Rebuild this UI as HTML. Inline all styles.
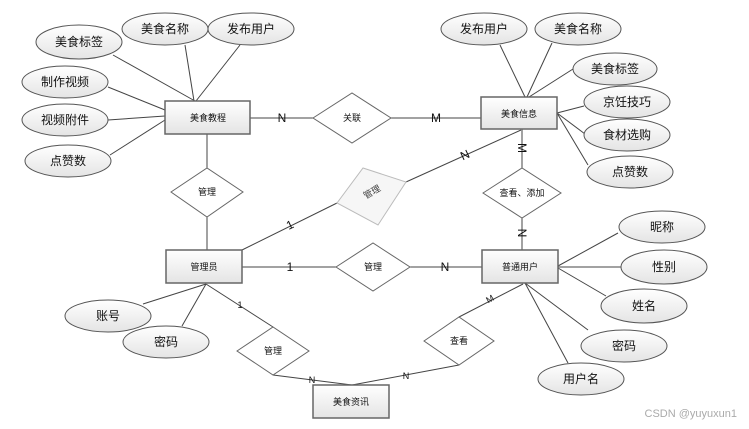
<!DOCTYPE html>
<html><head><meta charset="utf-8"><style>
html,body{margin:0;padding:0;background:#fff;}
svg{display:block;font-family:"Liberation Sans","Noto Sans CJK SC",sans-serif;}
</style></head><body>
<svg width="749" height="429" viewBox="0 0 749 429" xmlns="http://www.w3.org/2000/svg">
<defs>
<linearGradient id="g" x1="0" y1="0" x2="0" y2="1"><stop offset="0" stop-color="#ffffff"/><stop offset="1" stop-color="#e4e4e4"/></linearGradient>
</defs>
<g stroke="#444" stroke-width="1" fill="none">
<line x1="113" y1="55" x2="195" y2="101"/>
<line x1="185" y1="45" x2="194" y2="101"/>
<line x1="240" y1="45" x2="196" y2="101"/>
<line x1="108" y1="87" x2="165" y2="110"/>
<line x1="108" y1="120" x2="165" y2="116"/>
<line x1="110" y1="155" x2="165" y2="120"/>
<line x1="500" y1="45" x2="525" y2="97"/>
<line x1="552" y1="43" x2="527" y2="97"/>
<line x1="573" y1="69" x2="529" y2="97"/>
<line x1="584" y1="106" x2="557" y2="113"/>
<line x1="585" y1="134" x2="557" y2="113"/>
<line x1="588" y1="165" x2="557" y2="113"/>
<line x1="250" y1="118" x2="313" y2="118"/>
<line x1="391" y1="118" x2="481" y2="118"/>
<line x1="522" y1="129" x2="522" y2="168"/>
<line x1="522" y1="218" x2="522" y2="250"/>
<line x1="521" y1="130" x2="406" y2="182"/>
<line x1="337" y1="203" x2="242" y2="250"/>
<line x1="207" y1="134" x2="207" y2="168"/>
<line x1="207" y1="217" x2="207" y2="250"/>
<line x1="242" y1="267" x2="336" y2="267"/>
<line x1="410" y1="267" x2="482" y2="267"/>
<line x1="558" y1="266" x2="618" y2="233"/>
<line x1="558" y1="267" x2="621" y2="267"/>
<line x1="558" y1="268" x2="606" y2="296"/>
<line x1="525" y1="283" x2="588" y2="330"/>
<line x1="525" y1="283" x2="568" y2="363"/>
<line x1="206" y1="284" x2="143" y2="304"/>
<line x1="206" y1="284" x2="182" y2="326"/>
<line x1="206" y1="284" x2="273" y2="327"/>
<line x1="273" y1="375" x2="352" y2="385"/>
<line x1="523" y1="284" x2="459" y2="317"/>
<line x1="459" y1="365" x2="352" y2="385"/>
</g>
<g fill="url(#g)" stroke="#555" stroke-width="1">
<ellipse cx="79" cy="42" rx="43" ry="17"/>
<ellipse cx="165" cy="29" rx="43" ry="16"/>
<ellipse cx="251" cy="29" rx="43" ry="16"/>
<ellipse cx="65" cy="82" rx="43" ry="16"/>
<ellipse cx="65" cy="120" rx="43" ry="16"/>
<ellipse cx="68" cy="161" rx="43" ry="16"/>
<ellipse cx="484" cy="29" rx="43" ry="16"/>
<ellipse cx="578" cy="29" rx="43" ry="16"/>
<ellipse cx="615" cy="69" rx="42" ry="16"/>
<ellipse cx="627" cy="102" rx="43" ry="16"/>
<ellipse cx="627" cy="135" rx="43" ry="16"/>
<ellipse cx="630" cy="172" rx="43" ry="16"/>
<ellipse cx="662" cy="227" rx="43" ry="16"/>
<ellipse cx="664" cy="267" rx="43" ry="17"/>
<ellipse cx="644" cy="306" rx="43" ry="17"/>
<ellipse cx="624" cy="346" rx="43" ry="16"/>
<ellipse cx="581" cy="379" rx="43" ry="16"/>
<ellipse cx="108" cy="316" rx="43" ry="16"/>
<ellipse cx="166" cy="342" rx="43" ry="16"/>
</g>
<g fill="url(#g)" stroke="#666" stroke-width="1.5">
<rect x="165" y="101" width="85" height="33"/>
<rect x="481" y="97" width="76" height="32"/>
<rect x="166" y="250" width="76" height="33"/>
<rect x="482" y="250" width="76" height="33"/>
<rect x="313" y="385" width="76" height="33"/>
</g>
<g fill="#fff" stroke="#666" stroke-width="1">
<polygon points="313,118 352,93 391,118 352,143"/>
<polygon points="171,192 207,168 243,192 207,217"/>
<polygon points="483,193 522,168 561,193 522,218"/>
<polygon points="336,267 373,243 410,267 373,291"/>
<polygon points="237,351 273,327 309,351 273,375"/>
<polygon points="424,341 459,317 494,341 459,365"/>
<polygon points="337,203 363,168 406,182 378,225" fill="#f6f6f6" stroke="#bbb"/>
</g>
<g font-size="12" fill="#111" text-anchor="middle">
<text x="79" y="46">美食标签</text>
<text x="165" y="33">美食名称</text>
<text x="251" y="33">发布用户</text>
<text x="65" y="86">制作视频</text>
<text x="65" y="124">视频附件</text>
<text x="68" y="165">点赞数</text>
<text x="484" y="33">发布用户</text>
<text x="578" y="33">美食名称</text>
<text x="615" y="73">美食标签</text>
<text x="627" y="106">京饪技巧</text>
<text x="627" y="139">食材选购</text>
<text x="630" y="176">点赞数</text>
<text x="662" y="231">昵称</text>
<text x="664" y="271">性别</text>
<text x="644" y="310">姓名</text>
<text x="624" y="350">密码</text>
<text x="581" y="383">用户名</text>
<text x="108" y="320">账号</text>
<text x="166" y="346">密码</text>
</g>
<g font-size="9" fill="#111" text-anchor="middle">
<text x="208" y="121">美食教程</text>
<text x="519" y="117">美食信息</text>
<text x="204" y="270">管理员</text>
<text x="520" y="270">普通用户</text>
<text x="351" y="405">美食资讯</text>
<text x="352" y="121">关联</text>
<text x="207" y="195">管理</text>
<text x="522" y="196">查看、添加</text>
<text x="373" y="270">管理</text>
<text x="273" y="354">管理</text>
<text x="459" y="344">查看</text>
<text x="372" y="195" transform="rotate(-30 372 192)" fill="#444">管理</text>
</g>
<g font-size="12" fill="#111" text-anchor="middle">
<text x="282" y="122">N</text>
<text x="436" y="122">M</text>
<text x="522" y="152" transform="rotate(90 522 148)">M</text>
<text x="522" y="237" transform="rotate(90 522 233)">N</text>
<text x="465" y="159" transform="rotate(-25 465 155)">N</text>
<text x="290" y="229" transform="rotate(-25 290 225)">1</text>
<text x="290" y="271">1</text>
<text x="445" y="271">N</text>
</g>
<g font-size="9" fill="#111" text-anchor="middle">
<text x="240" y="308">1</text>
<text x="312" y="383">N</text>
<text x="490" y="302" transform="rotate(-30 490 299)">M</text>
<text x="406" y="379">N</text>
</g>
<text x="737" y="417" font-size="11" fill="#aaa" text-anchor="end">CSDN @yuyuxun1</text>
</svg>
</body></html>
